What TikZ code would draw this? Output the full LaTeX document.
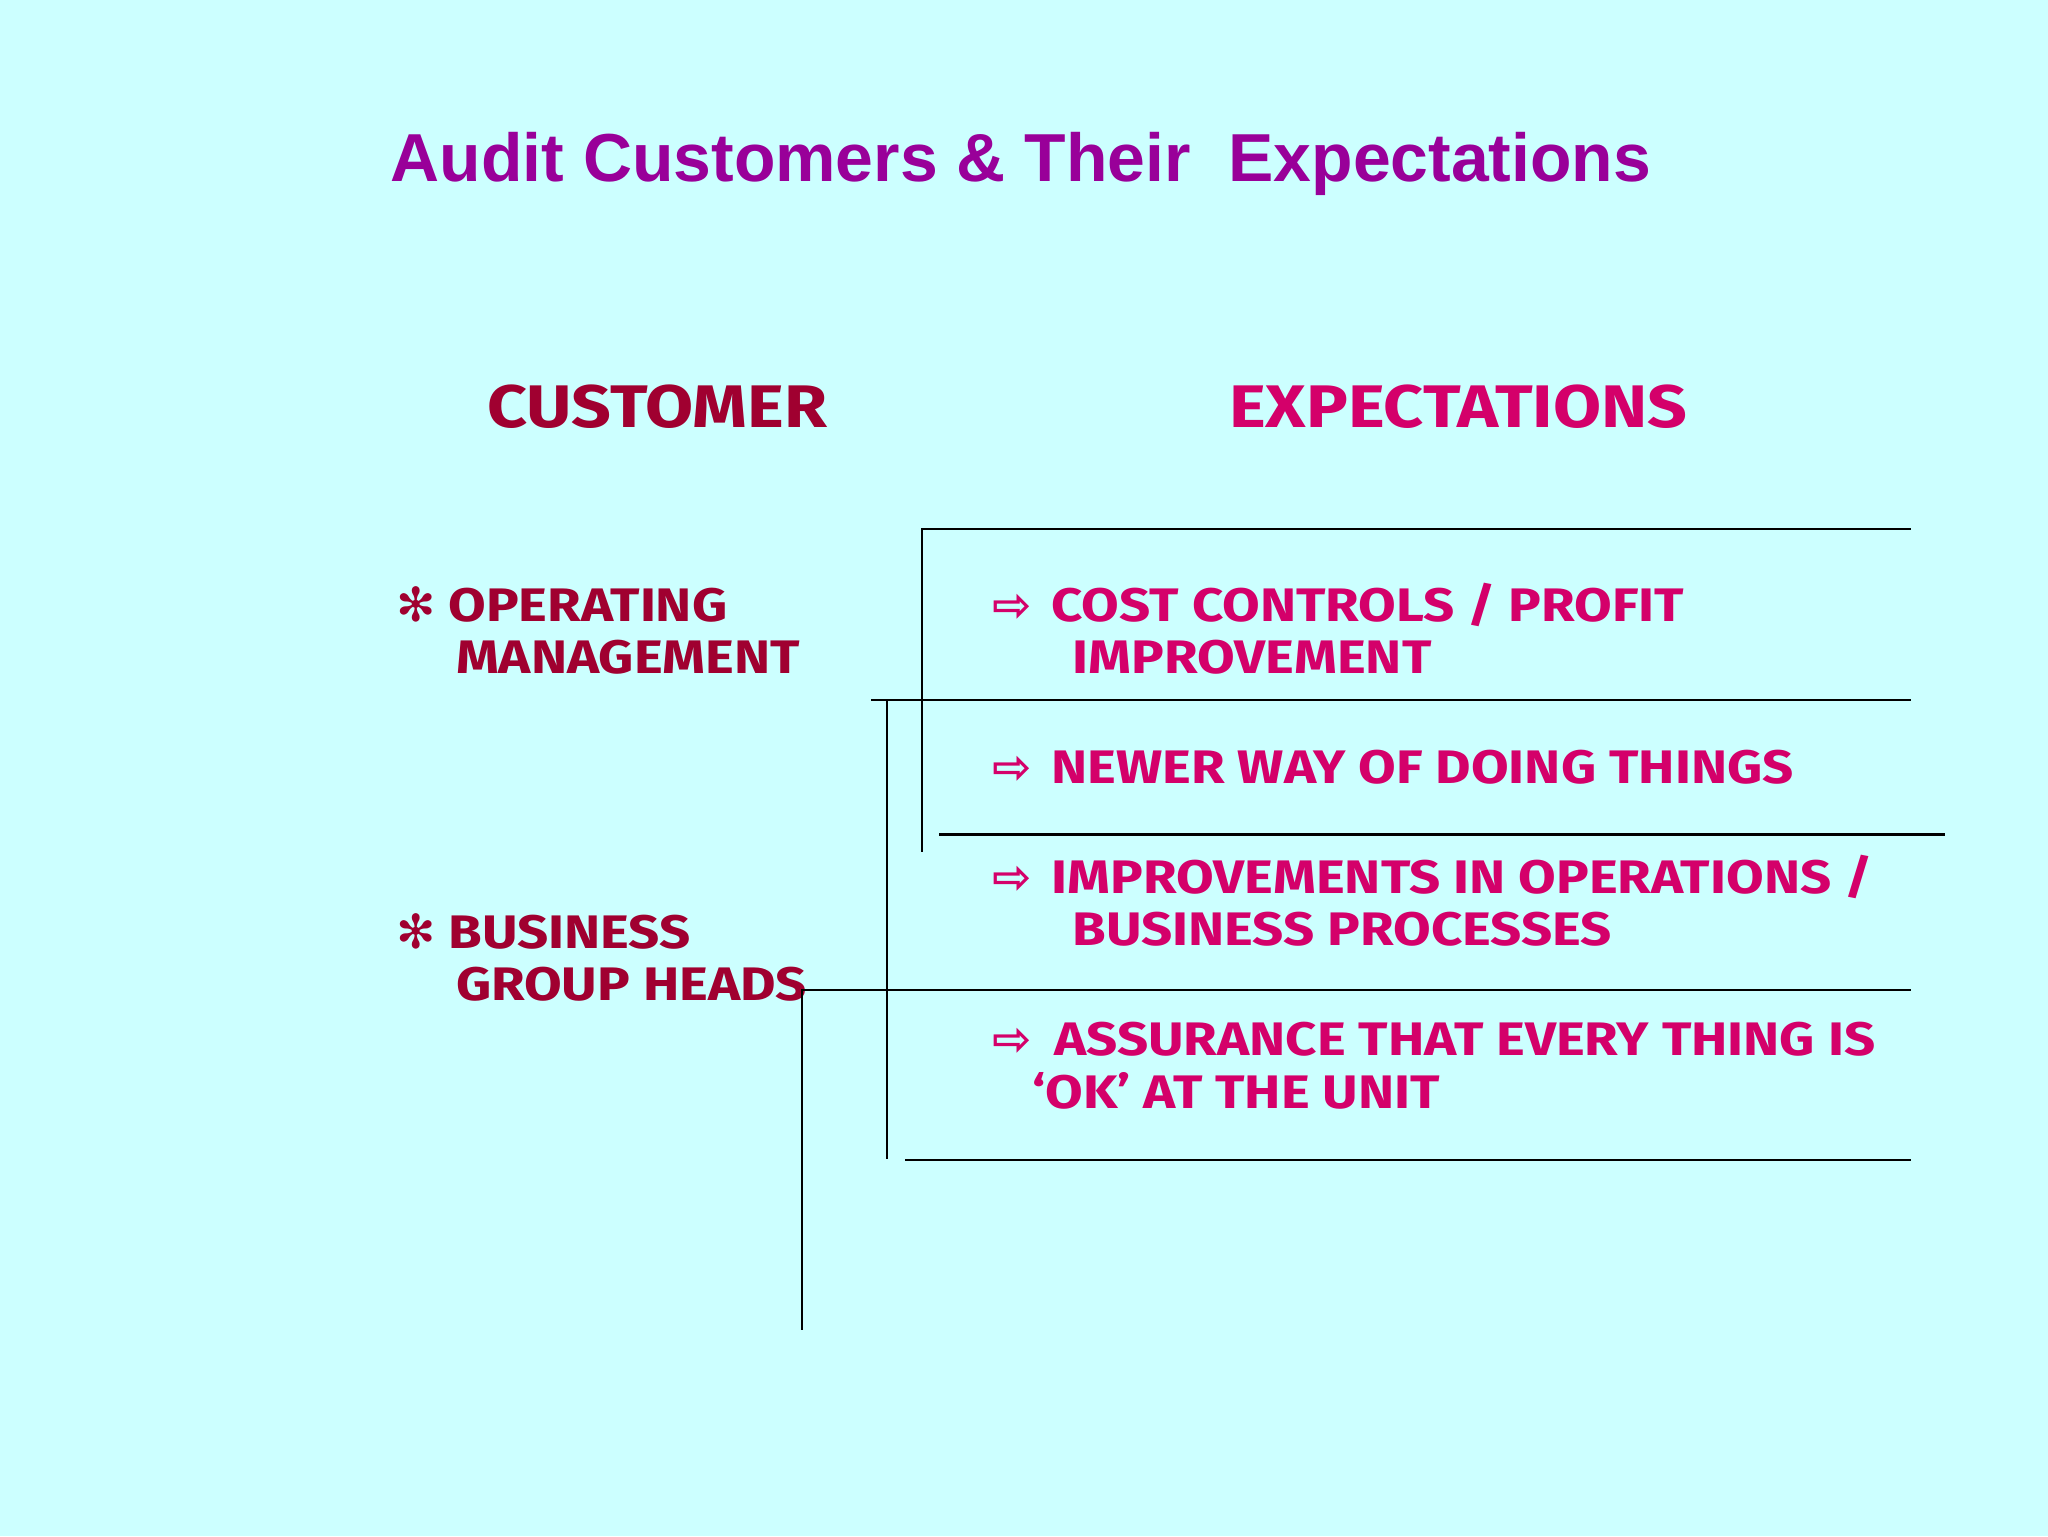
\documentclass[tikz,border=0pt]{standalone}
\usepackage{fontspec}
\setmainfont{Fira Sans}[FakeStretch=1.16]
\newfontfamily\titlefont{Liberation Sans}
\newfontfamily\symfont{DejaVu Sans}
\definecolor{bg}{HTML}{CCFFFF}
\definecolor{ttl}{HTML}{990099}
\definecolor{cust}{HTML}{A00030}
\definecolor{expc}{HTML}{D4006A}
\begin{document}
\begin{tikzpicture}[x=1pt,y=-1pt,
  ln/.style={line width=2pt,black},
  ct/.style={anchor=base west,inner sep=0pt,text=cust,font=\bfseries\fontsize{36}{40}\selectfont},
  et/.style={anchor=base west,inner sep=0pt,text=expc,font=\bfseries\fontsize{36}{40}\selectfont},
  hd/.style={anchor=base west,inner sep=0pt,font=\bfseries\fontsize{46}{50}\selectfont}]
\fill[bg] (0,0) rectangle (1568,1176);
\useasboundingbox (0,0) rectangle (1568,1176);
\node[anchor=base west,inner sep=0pt,text=ttl,font=\titlefont\bfseries\fontsize{52}{56}\selectfont] (title) at (299,139) {Audit Customers \& Their\ \ Expectations};
\node[hd,text=cust] (h1) at (373,327) {CUSTOMER};
\node[hd,text=expc] (h2) at (941,327) {EXPECTATIONS};
\node[ct] (c1) at (303,476) {{\symfont ✻} OPERATING};
\node[ct] (c2) at (349,516) {MANAGEMENT};
\node[ct] (c3) at (303,726) {{\symfont ✻} BUSINESS};
\node[ct] (c4) at (349,766) {GROUP HEADS};
\node[et] (a1) at (760,476) {{\symfont ⇨}};
\node[et] (e1) at (805,476) {COST CONTROLS / PROFIT};
\node[et] (e1b) at (821,516) {IMPROVEMENT};
\node[et] (a2) at (760,600) {{\symfont ⇨}};
\node[et] (e2) at (805,600) {NEWER WAY OF DOING THINGS};
\node[et] (a3) at (760,684) {{\symfont ⇨}};
\node[et] (e3) at (805,684) {IMPROVEMENTS IN OPERATIONS /};
\node[et] (e3b) at (821,724) {BUSINESS PROCESSES};
\node[et] (a4) at (760,808) {{\symfont ⇨}};
\node[et] (e4) at (807,808) {ASSURANCE THAT EVERY THING IS};
\node[et] (e4b) at (790,849) {‘OK’ AT THE UNIT};
\coordinate (p1) at (706,652); \coordinate (p2) at (706,405); \coordinate (p3) at (1463,405);
\draw[ln] (p1) -- (p2) -- (p3);
\coordinate (q1) at (667,536); \coordinate (q2) at (1463,536);
\draw[ln] (q1) -- (q2);
\coordinate (r1) at (679,536); \coordinate (r2) at (679,887);
\draw[ln] (r1) -- (r2);
\coordinate (s1) at (719,639); \coordinate (s2) at (1489,639);
\draw[ln] (s1) -- (s2);
\coordinate (t1) at (614,1018); \coordinate (t2) at (614,758); \coordinate (t3) at (1463,758);
\draw[ln] (t1) -- (t2) -- (t3);
\coordinate (u1) at (693,888); \coordinate (u2) at (1463,888);
\draw[ln] (u1) -- (u2);
\end{tikzpicture}
\end{document}
